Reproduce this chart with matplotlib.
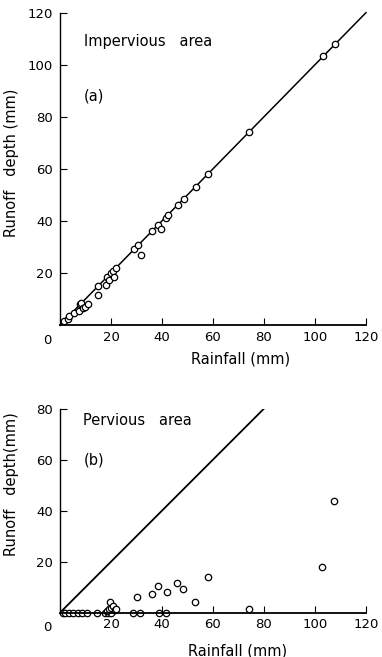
import numpy as np
import matplotlib.pyplot as plt

# (a) impervious area: rainfall vs runoff depth (mm)
rain_a = [1.7, 3.3, 3.6, 5.4, 7.6, 7.8, 8.3, 8.9, 10.0, 11.1, 14.8, 14.8, 18.0, 18.3,
          19.3, 20.1, 20.9, 21.2, 22.1, 29.1, 30.7, 31.8, 36.2, 38.5, 39.6, 41.7,
          42.4, 46.4, 48.7, 53.2, 58.2, 74.1, 103.3, 107.8]
runoff_a = [1.4, 2.2, 3.4, 4.6, 5.4, 7.9, 8.3, 6.4, 6.8, 7.9, 15.1, 11.7, 15.4, 18.3,
            17.3, 20.0, 20.8, 18.3, 22.0, 29.2, 30.7, 26.9, 36.1, 38.4, 36.9, 41.0,
            42.2, 46.1, 48.6, 53.1, 58.2, 74.1, 103.4, 108.0]

# (b) pervious area
rain_b = [1.0, 2.0, 3.5, 5.2, 6.9, 8.5, 10.5, 14.4, 17.6, 19.0, 20.0, 28.5, 31.4,
          39.0, 41.6,
          18.4, 19.2, 19.6, 20.1, 20.8, 21.4, 22.0,
          30.1, 36.1, 38.6, 41.8, 46.0, 48.1, 52.9, 58.0, 74.1, 102.6, 107.5]
runoff_b = [0, 0, 0, 0, 0, 0, 0, 0, 0, 0, 0, 0, 0,
            0, 0,
            0.6, 1.3, 4.3, 1.9, 2.7, 1.1, 1.6,
            6.3, 7.2, 10.6, 8.0, 11.8, 9.2, 4.1, 14.0, 1.3, 18.0, 43.8]

ticks_x = [20, 40, 60, 80, 100, 120]
ticks_ya = [20, 40, 60, 80, 100, 120]
ticks_yb = [20, 40, 60, 80]

plt.rcParams['font.family'] = 'DejaVu Sans'
plt.rcParams['font.size'] = 9

fig = plt.figure(figsize=(3.82, 6.57), dpi=100)
ax1 = fig.add_axes([0.157, 0.5053, 0.801, 0.4754])
ax2 = fig.add_axes([0.157, 0.0674, 0.801, 0.3106])


def style(ax, ymax, yticks):
    ax.set_xlim(0, 120)
    ax.set_ylim(0, ymax)
    ax.spines['top'].set_visible(False)
    ax.spines['right'].set_visible(False)
    ax.spines['left'].set_linewidth(1.0)
    ax.spines['bottom'].set_linewidth(1.3)
    ax.set_xticks(ticks_x)
    ax.set_yticks(yticks)
    ax.tick_params(direction='in', length=5, width=0.8, labelsize=9.5)
    ax.tick_params(axis='x', pad=4)
    ax.tick_params(axis='y', pad=5)
    # single "0" at the origin
    h = ax.get_position().height * 657
    ax.text(-0.04, -15 / h, '0', transform=ax.transAxes,
            ha='center', va='center', fontsize=9.5)


style(ax1, 120, ticks_ya)
ax1.plot([0, 120], [0, 120], color='black', lw=1.1, clip_on=False)
ax1.plot(rain_a, runoff_a, 'o', mfc='white', mec='black', ms=4.6, mew=0.9, clip_on=False)
ax1.text(9.5, 109, 'Impervious   area', fontsize=10.5, va='center')
ax1.text(9.5, 88, '(a)', fontsize=10.5, va='center')
ax1.set_xlabel('Rainfall (mm)', fontsize=10.5)
ax1.xaxis.set_label_coords(0.59, -0.085)
ax1.set_ylabel('Runoff   depth (mm)', fontsize=10.5)
ax1.yaxis.set_label_coords(-0.135, 0.52)

style(ax2, 80, ticks_yb)
ax2.plot([0, 80], [0, 80], color='black', lw=1.3)
ax2.plot(rain_b, runoff_b, 'o', mfc='white', mec='black', ms=4.6, mew=0.9, clip_on=False)
ax2.text(9, 75.5, 'Pervious   area', fontsize=10.5, va='center')
ax2.text(9.5, 60, '(b)', fontsize=10.5, va='center')
ax2.set_xlabel('Rainfall (mm)', fontsize=10.5)
ax2.xaxis.set_label_coords(0.58, -0.15)
ax2.set_ylabel('Runoff   depth(mm)', fontsize=10.5)
ax2.yaxis.set_label_coords(-0.135, 0.63)

fig.savefig('out.png', dpi=100)
